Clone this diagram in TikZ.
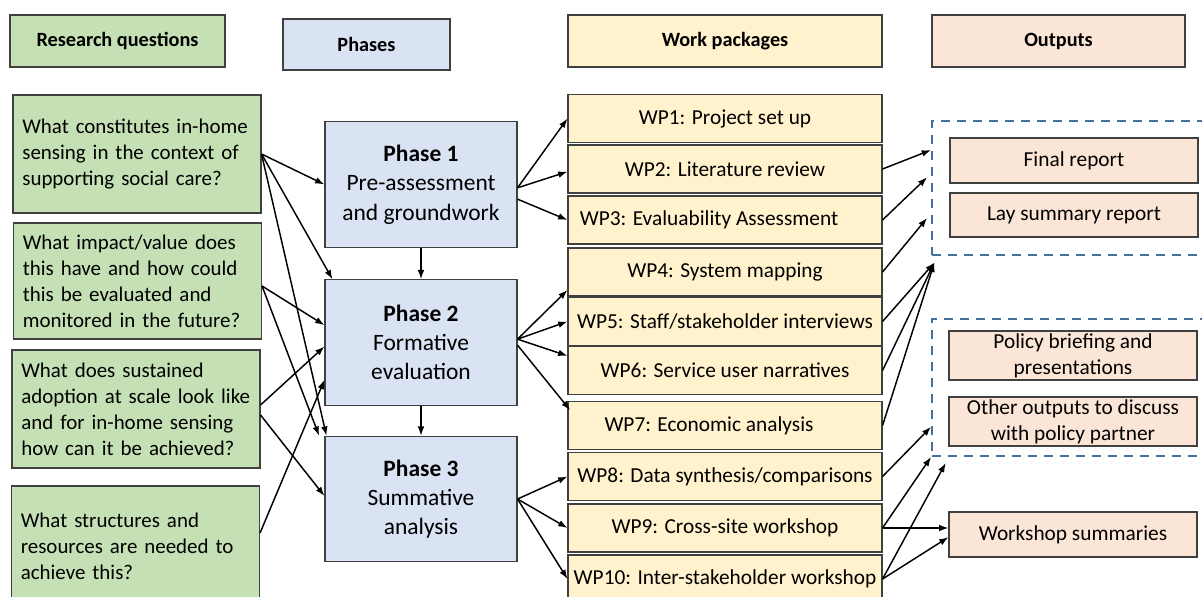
\documentclass[tikz,border=0pt]{standalone}
\usepackage{fontspec}
\setmainfont{Carlito}
\usetikzlibrary{arrows.meta}

\definecolor{rqgreen}{HTML}{C5E0B4}
\definecolor{phblue}{HTML}{DAE3F3}
\definecolor{wpyellow}{HTML}{FFF2CC}
\definecolor{outpeach}{HTML}{FBE5D6}
\definecolor{boxline}{HTML}{404040}
\definecolor{dashblue}{HTML}{41719C}

\begin{document}
\begin{tikzpicture}[x=0.75pt,y=-0.75pt,
  box/.style={draw=boxline,line width=0.8pt,inner sep=0pt,align=center,font=\fontsize{16}{19.5}\selectfont},
  head/.style={box,font=\fontsize{15.2}{19.5}\selectfont\bfseries,minimum height=39pt},
  qbox/.style={box,fill=rqgreen,align=left,inner xsep=7pt,text width=172pt,font=\fontsize{15.7}{19.5}\selectfont},
  phbox/.style={box,fill=phblue,minimum width=144pt,minimum height=94pt,font=\fontsize{17.6}{22}\selectfont},
  wpbox/.style={box,fill=wpyellow,minimum width=235.5pt,minimum height=36pt},
  outbox/.style={box,fill=outpeach,minimum width=186pt},
  grpbox/.style={draw=dashblue,line width=1.4pt,dash pattern=on 7pt off 5pt,minimum width=208.5pt,inner sep=0pt},
  arr/.style={-{Latex[length=7pt,width=5pt]},line width=1.1pt}]
\useasboundingbox (0,0) rectangle (1202,596);

	\node[head,fill=rqgreen,minimum width=161.25pt] (hrq) at (117.5,41) {Research questions};
	\node[head,fill=phblue,minimum width=125.25pt,minimum height=38.25pt] (hph) at (366.5,44.5) {Phases};
	\node[head,fill=wpyellow,minimum width=235.5pt] (hwp) at (725,41) {Work packages};
	\node[head,fill=outpeach,minimum width=189.75pt] (hout) at (1058.5,41) {Outputs};

	\node[qbox,minimum height=88.5pt] (q1) at (137,154) {What constitutes in-home\\sensing in the context of\\supporting social care?};
	\node[qbox,minimum height=87pt] (q2) at (137.5,281) {What impact/value does\\this have and how could\\this be evaluated and\\monitored in the future?};
	\node[qbox,minimum height=88.5pt] (q3) at (136,409) {What does sustained\\adoption at scale look like\\and for in-home sensing\\how can it be achieved?};
	\node[qbox,minimum height=90pt] (q4) at (135.5,546) {What structures and\\resources are needed to\\achieve this?};

	\node[phbox] (p1) at (421,184.5) {\textbf{Phase 1}\\Pre-assessment\\and groundwork};
	\node[phbox] (p2) at (421,342.5) {\textbf{Phase 2}\\Formative\\evaluation};
	\node[phbox] (p3) at (421,499) {\textbf{Phase 3}\\Summative\\analysis};

	\node[wpbox] (wp1) at (725,118.5) {WP1: Project set up};
	\node[wpbox] (wp2) at (725,169) {WP2: Literature review};
	\node[wpbox] (wp3) at (725,220) {WP3: Evaluability Assessment\hspace*{24pt}};
	\node[wpbox] (wp4) at (725,272) {WP4: System mapping};
	\node[wpbox] (wp5) at (725,321.5) {WP5: Staff/stakeholder interviews};
	\node[wpbox] (wp6) at (725,370.5) {WP6: Service user narratives};
	\node[wpbox] (wp7) at (725,425.5) {WP7: Economic analysis\hspace*{24pt}};
	\node[wpbox] (wp8) at (725,476.5) {WP8: Data synthesis/comparisons};
	\node[wpbox] (wp9) at (725,528) {WP9: Cross-site workshop};
	\node[wpbox] (wp10) at (725,579) {WP10: Inter-stakeholder workshop};

	\node[grpbox,minimum height=100.5pt] (grp1) at (1071,188) {};
	\node[outbox,minimum height=33.75pt] (fr) at (1074,160.5) {Final report};
	\node[outbox,minimum height=33pt] (ls) at (1074,215) {Lay summary report};
	\node[grpbox,minimum height=102.75pt] (grp2) at (1071,387.5) {};
	\node[outbox,minimum height=36.75pt] (pb) at (1073,355.5) {Policy briefing and\\presentations};
	\node[outbox,minimum height=36.75pt] (oo) at (1073,421.5) {Other outputs to discuss\\with policy partner};
	\node[outbox,minimum height=33.75pt] (ws) at (1073,534.5) {Workshop summaries};

	% questions to phases
	\draw[arr] (q1.east) -- (p1.west);
	\draw[arr] (q1.east) -- ([xshift=6pt]p2.north west);
	\draw[arr] (q1.east) -- ([xshift=1.5pt]p3.north west);
	\draw[arr] ([yshift=-3.75pt]q2.east) -- ([yshift=13pt]p2.west);
	\draw[arr] ([yshift=-3.75pt]q2.east) -- ([xshift=-4pt]p3.north west);
	\draw[arr] ([yshift=3pt]q3.east) -- ([yshift=-3pt]p2.west);
	\draw[arr] ([yshift=-4.5pt]q3.east) -- ([yshift=2.25pt]p3.west);
	\draw[arr] ([yshift=9.75pt]q4.east) -- ([yshift=-28pt]p2.west);

	% phases to work packages
	\draw[arr] (p1.south) -- (p2.north);
	\draw[arr] (p2.south) -- (p3.north);
	\draw[arr] ([yshift=-2.5pt]p1.east) -- (wp1.west);
	\draw[arr] ([yshift=-2.5pt]p1.east) -- ([yshift=-2pt]wp2.west);
	\draw[arr] ([yshift=-11pt]p1.east) -- (wp3.west);
	\draw[arr] ([yshift=2.5pt]p2.east) -- ([yshift=-13.5pt]wp4.west);
	\draw[arr] ([yshift=2.5pt]p2.east) -- (wp5.west);
	\draw[arr] ([yshift=2.5pt]p2.east) -- ([yshift=11pt]wp6.west);
	\draw[arr] ([yshift=-2pt]p2.east) -- ([xshift=2pt,yshift=11.5pt]wp7.west);
	\draw[arr] (p3.east) -- (wp8.west);
	\draw[arr] (p3.east) -- (wp9.west);
	\draw[arr] (p3.east) -- (wp10.west);

	% work packages to outputs
	\coordinate (mid1) at ([shift={(2.5pt,-5pt)}]grp1.south west);
	\draw[arr] (wp2.east) -- ([yshift=28.5pt]grp1.west);
	\draw[arr] (wp3.east) -- ([xshift=-3pt,yshift=8pt]grp1.west);
	\draw[arr] (wp4.east) -- ([xshift=-3pt,yshift=-22.5pt]grp1.west);
	\draw[arr] (wp5.east) -- (mid1);
	\draw[arr] (wp6.east) -- (mid1);
	\draw[arr] (wp7.east) -- (mid1);
	\draw[arr] (wp8.east) -- ([yshift=-29.5pt]grp2.west);
	\draw[arr] (wp9.east) -- (grp2.south west);
	\draw[arr] (wp9.east) -- (wp9.east -| ws.west);
	\draw[arr] (wp10.east) -- ([shift={(11pt,-4.5pt)}]grp2.south west);
	\draw[arr] (wp10.east) -- ([yshift=-2pt]ws.west);

\end{tikzpicture}
\end{document}
